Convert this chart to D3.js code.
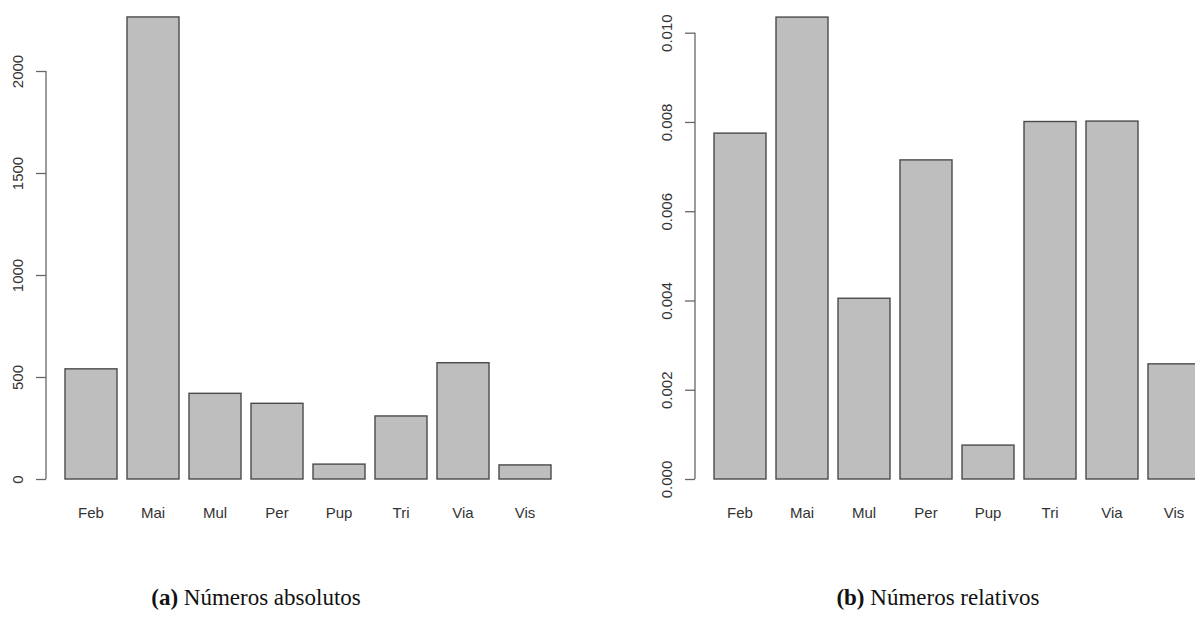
<!DOCTYPE html>
<html>
<head>
<meta charset="utf-8">
<script src="https://cdn.jsdelivr.net/npm/d3@7"></script>
<style>
  html, body { margin: 0; padding: 0; background: #fff; }
  svg { display: block; }
</style>
</head>
<body>
<svg id="fig" width="1195" height="623"></svg>
<script>
// Species codes on the x axis
const categories = ["Feb", "Mai", "Mul", "Per", "Pup", "Tri", "Via", "Vis"];
// Absolute counts per species
const absoluteCounts = [540, 2265, 420, 371, 73, 309, 570, 69];
// Relative values per species
const relativeValues = [0.00775, 0.01035, 0.00405, 0.00715, 0.00076, 0.00801, 0.00802, 0.00258];
// Tick values for each y axis
const absoluteTicks = [0, 500, 1000, 1500, 2000];
const relativeTicks = [0, 0.002, 0.004, 0.006, 0.008, 0.010];
// Panel captions
const captions = [
  { tag: "(a)", text: " Números absolutos" },
  { tag: "(b)", text: " Números relativos" }
];

const svg = d3.select("#fig");
const STEP = 62, GAP = 10;

function panel(cfg) {
  const g = svg.append("g");
  // Bars are 52px wide with a 10px gap, first bar starting at x0
  const x = d3.scaleBand()
    .domain(categories)
    .range([cfg.x0, cfg.x0 + STEP * categories.length - GAP])
    .paddingInner(GAP / STEP)
    .paddingOuter(0);
  const y = d3.scaleLinear().domain(cfg.domain).range([479, cfg.topPx]);

  // Bars
  g.selectAll("rect.bar")
    .data(cfg.values)
    .join("rect")
    .attr("class", "bar")
    .attr("x", (d, i) => x(categories[i]))
    .attr("width", x.bandwidth())
    .attr("y", d => y(d))
    .attr("height", d => y(0) - y(d))
    .attr("fill", "#bebebe")
    .attr("stroke", "#4a4a4a")
    .attr("stroke-width", 1.4);

  // Y axis (ticks to the left, labels rotated)
  const axis = d3.axisLeft(y)
    .tickValues(cfg.ticks)
    .tickSize(10)
    .tickSizeOuter(0)
    .tickFormat(cfg.format);
  const ag = g.append("g")
    .attr("transform", `translate(${cfg.axisX},0)`)
    .call(axis);
  ag.select(".domain").attr("stroke", "#666").attr("stroke-width", 1.3)
    .attr("d", `M0,${y(cfg.ticks[0])}V${y(cfg.ticks[cfg.ticks.length - 1])}`);
  ag.selectAll(".tick line").attr("stroke", "#666").attr("stroke-width", 1.3);
  ag.selectAll(".tick text")
    .attr("x", null).attr("dy", null)
    .attr("transform", "translate(-23,0) rotate(-90)")
    .attr("text-anchor", "middle")
    .attr("fill", "#333")
    .style("font-family", "'Liberation Sans', Arial, sans-serif")
    .style("font-size", "15px");

  // Category labels
  g.selectAll("text.cat")
    .data(categories)
    .join("text")
    .attr("class", "cat")
    .attr("x", d => x(d) + x.bandwidth() / 2)
    .attr("y", 518)
    .attr("text-anchor", "middle")
    .attr("fill", "#333")
    .style("font-family", "'Liberation Sans', Arial, sans-serif")
    .style("font-size", "15px")
    .text(d => d);

  // Caption
  const t = svg.append("text")
    .attr("x", cfg.captionX)
    .attr("y", 605)
    .attr("text-anchor", "middle")
    .style("font-family", "'Liberation Serif', 'Times New Roman', serif")
    .style("font-size", "23px")
    .attr("fill", "#111");
  t.append("tspan").attr("font-weight", "bold").text(cfg.caption.tag);
  t.append("tspan").text(cfg.caption.text);
}

panel({
  x0: 65, axisX: 46, values: absoluteCounts, domain: [0, 2000], topPx: 71,
  ticks: absoluteTicks, format: d3.format("d"), captionX: 256, caption: captions[0]
});
panel({
  x0: 714, axisX: 695, values: relativeValues, domain: [0, 0.010], topPx: 32.7,
  ticks: relativeTicks, format: d3.format(".3f"), captionX: 938, caption: captions[1]
});
</script>
</body>
</html>
